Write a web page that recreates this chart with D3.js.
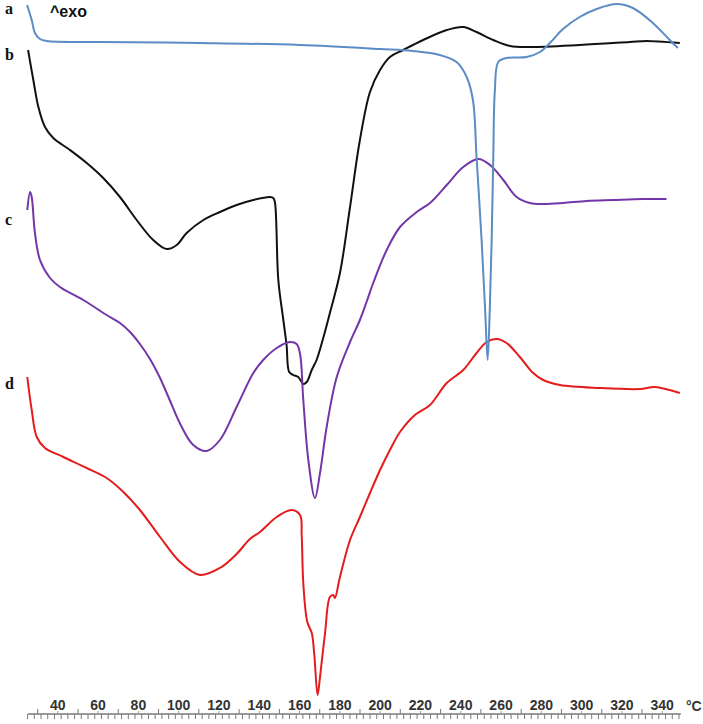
<!DOCTYPE html>
<html lang="en">
<head>
<meta charset="utf-8">
<title>DSC curves</title>
<script src="https://cdn.jsdelivr.net/npm/d3@7"></script>
<style>
  body { margin: 0; background: #fff; }
  svg { display: block; }
  .sans { font-family: "Liberation Sans", Arial, sans-serif; font-weight: bold; }
  .serif { font-family: "Liberation Serif", "Times New Roman", serif; font-weight: bold; }
</style>
</head>
<body>
<div id="chart"></div>
<script>
// temperatures (°C) and heat flow (a.u., exo up)
var tempA = [25, 27.3, 28.9, 31.4, 34.7, 61.2, 110.8, 160.4, 200.2, 216.5, 229.9, 238.2, 243.2, 246.3, 248.1, 250.6, 252.3, 253.6, 254.7, 255.6, 256.4, 257.2, 258.9, 263.0, 273.0, 279.6, 284.5, 291.0, 299.3, 307.7, 317.6, 325.7, 335.6, 344.0, 348.0];
var flowA = [-0.5, -2.0, -3.3, -3.9, -4.1, -4.2, -4.3, -4.5, -4.9, -5.1, -5.5, -6.2, -7.7, -10.0, -15.7, -24.0, -30.7, -36.0, -30.7, -24.0, -15.7, -9.0, -6.2, -5.8, -5.7, -5.2, -4.3, -2.9, -1.7, -0.9, -0.4, -0.8, -2.3, -4.0, -4.8];

var tempB = [25.5, 28.1, 30.6, 33.9, 38.0, 46.3, 54.6, 62.8, 71.1, 79.4, 87.6, 94.3, 99.3, 104.2, 112.5, 120.7, 129.0, 137.3, 145.6, 147.2, 148.0, 149.7, 152.2, 153.8, 155.1, 157.1, 159.6, 162.1, 163.8, 166.3, 168.7, 172.0, 175.3, 180.3, 185.3, 190.2, 195.2, 200.2, 205.1, 211.7, 221.6, 233.3, 241.5, 248.1, 256.4, 264.7, 274.6, 299.4, 324.2, 332.5, 349.0];
var flowB = [-5.0, -8.0, -10.7, -12.7, -13.8, -15.0, -16.3, -17.8, -19.7, -22.0, -24.0, -24.9, -24.5, -23.3, -22.0, -21.2, -20.5, -20.0, -19.7, -19.8, -20.2, -28.0, -32.0, -34.5, -37.2, -37.5, -37.7, -38.4, -38.2, -37.0, -36.0, -33.8, -31.3, -27.3, -20.7, -14.0, -9.2, -7.0, -5.7, -5.0, -4.0, -3.0, -2.7, -3.2, -4.0, -4.6, -4.7, -4.5, -4.2, -4.1, -4.3];

var tempC = [25.1, 26.5, 27.3, 28.9, 31.4, 36.4, 41.3, 52.9, 64.5, 71.1, 76.1, 81.0, 86.0, 91.0, 96.0, 101.0, 107.5, 114.1, 120.7, 129.0, 137.3, 142.2, 148.9, 155.5, 158.8, 160.5, 162.1, 164.6, 167.9, 170.4, 173.7, 178.7, 185.3, 190.2, 193.5, 196.8, 203.5, 210.1, 218.4, 225.0, 233.3, 241.5, 249.0, 254.8, 261.4, 268.0, 274.6, 281.2, 291.1, 302.7, 315.9, 330.8, 342.4];
var flowC = [-21.0, -19.2, -19.7, -23.3, -26.0, -27.8, -28.7, -30.0, -31.5, -32.3, -33.2, -34.4, -35.9, -37.8, -40.1, -42.4, -44.5, -45.1, -44.0, -40.7, -37.3, -36.0, -34.8, -34.2, -34.4, -35.4, -40.0, -46.0, -49.8, -47.3, -42.7, -37.7, -34.2, -32.0, -30.2, -28.3, -25.0, -22.7, -21.2, -20.3, -18.5, -16.7, -15.9, -16.5, -18.0, -19.7, -20.3, -20.4, -20.3, -20.1, -20.0, -19.9, -19.9];

var tempD = [25.1, 27.3, 29.8, 33.9, 43.0, 54.6, 64.5, 72.8, 81.0, 91.0, 100.9, 110.8, 120.7, 129.0, 135.6, 140.6, 148.9, 156.3, 160.5, 161.3, 162.1, 164.1, 166.3, 167.5, 169.2, 170.4, 172.9, 175.3, 177.0, 177.8, 180.3, 185.3, 190.2, 195.2, 200.2, 205.1, 210.1, 217.5, 225.0, 233.3, 241.5, 248.1, 253.1, 258.1, 263.0, 269.6, 276.2, 281.2, 289.5, 309.3, 329.2, 336.6, 349.0];
var flowD = [-37.7, -41.0, -43.7, -44.8, -45.7, -46.8, -47.8, -49.2, -51.0, -53.7, -56.2, -57.5, -56.8, -55.4, -53.9, -53.2, -51.7, -51.0, -51.5, -53.5, -58.3, -62.2, -63.3, -65.3, -69.5, -67.7, -63.3, -59.7, -59.5, -59.8, -57.7, -54.0, -51.7, -49.3, -47.0, -45.0, -43.2, -41.5, -40.5, -38.3, -37.0, -35.3, -34.2, -33.9, -34.3, -35.7, -37.3, -38.0, -38.5, -38.8, -38.9, -38.7, -39.3];

var curveNames = ["a", "b", "c", "d"];
var curveColors = ["#5b8cc6", "#111111", "#7236a8", "#e51c1c"];
var labelTicks = [40, 60, 80, 100, 120, 140, 160, 180, 200, 220, 240, 260, 280, 300, 320, 340];
var midTicks = [30, 50, 70, 90, 110, 130, 150, 170, 190, 210, 230, 250, 270, 290, 310, 330];

var width = 703, height = 724, axisY = 714;

var svg = d3.select("#chart").append("svg")
  .attr("width", width)
  .attr("height", height);

var x = d3.scaleLinear().domain([40, 340]).range([57.3, 661.7]);
var y = d3.scaleLinear().domain([0, -72.4]).range([0, 724]);

var series = [
  { t: tempA, f: flowA },
  { t: tempB, f: flowB },
  { t: tempC, f: flowC },
  { t: tempD, f: flowD }
];

var line = d3.line()
  .x(function(d) { return x(d[0]); })
  .y(function(d) { return y(d[1]); })
  .curve(d3.curveCatmullRom.alpha(0.5));

// curves, black first so blue sits over it like in the original
[1, 2, 3, 0].forEach(function(i) {
  var pts = d3.zip(series[i].t, series[i].f);
  svg.append("path")
    .datum(pts)
    .attr("fill", "none")
    .attr("stroke", curveColors[i])
    .attr("stroke-width", 2)
    .attr("stroke-linejoin", "round")
    .attr("d", line);
});

// curve letters at the left
var letterY = [14, 60, 225, 389];
svg.selectAll("text.letter")
  .data(curveNames)
  .enter().append("text")
  .attr("class", "letter serif")
  .attr("x", 5)
  .attr("y", function(d, i) { return letterY[i]; })
  .style("font-size", "16px")
  .attr("fill", "#111")
  .text(function(d) { return d; });

svg.append("text")
  .attr("class", "sans")
  .attr("x", 50)
  .attr("y", 17)
  .style("font-size", "16px")
  .attr("fill", "#111")
  .text("^exo");

// temperature axis
var axisG = svg.append("g").attr("transform", "translate(0," + axisY + ")");

axisG.append("line")
  .attr("x1", x(25.5))
  .attr("x2", x(349.5))
  .attr("stroke", "#7a7a7a")
  .attr("stroke-width", 1.5);

var minor = axisG.append("g")
  .call(d3.axisBottom(x)
    .tickValues(d3.range(25, 350, 10 / 3))
    .tickSize(5)
    .tickFormat(""));

var mid = axisG.append("g")
  .call(d3.axisTop(x)
    .tickValues(midTicks)
    .tickSize(5)
    .tickFormat(""));

var labels = axisG.append("g")
  .call(d3.axisTop(x)
    .tickValues(labelTicks)
    .tickSize(3)
    .tickPadding(1)
    .tickFormat(d3.format("d")));

axisG.selectAll(".domain").remove();
minor.selectAll("line").attr("stroke", "#7a7a7a");
mid.selectAll("line").attr("stroke", "#7a7a7a");
labels.selectAll("line").attr("stroke", "#93a77a");
labels.selectAll("text")
  .attr("class", "sans")
  .attr("font-family", null)
  .attr("font-size", null)
  .style("font-size", "14px")
  .attr("fill", "#333");

svg.append("text")
  .attr("class", "sans")
  .attr("x", 686)
  .attr("y", 711)
  .style("font-size", "14px")
  .attr("fill", "#333")
  .text("°C");
</script>
</body>
</html>
